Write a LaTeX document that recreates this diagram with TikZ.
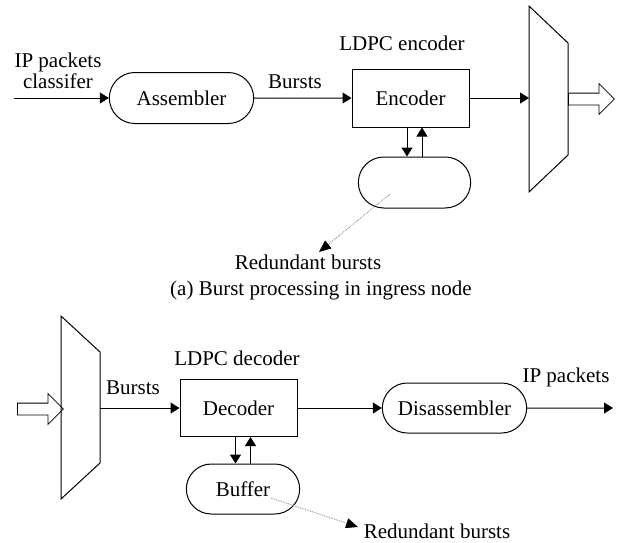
\documentclass[tikz,border=0pt]{standalone}
\usepackage{fontspec}
\setmainfont{Liberation Serif}
\usetikzlibrary{arrows.meta,shapes.misc,shapes.arrows}

\tikzset{
  blk/.style={draw,line width=1pt,rectangle,minimum width=117pt,minimum height=58pt},
  pill/.style={draw,line width=1pt,rounded rectangle,minimum width=151pt,minimum height=51pt},
  fat/.style={draw,line width=0.8pt,single arrow,minimum height=46pt,inner sep=5.5pt,
    single arrow head extend=9.5pt,single arrow tip angle=90},
  flow/.style={line width=1pt,-{Triangle[length=9pt,width=11pt]}},
  hint/.style={densely dotted,gray,line width=0.8pt,-{Triangle[length=12pt,width=10pt,color=black]}}
}

\begin{document}
\begin{tikzpicture}[x=1pt,y=-1pt,font=\fontsize{21}{21}\selectfont]
\useasboundingbox (0,0) rectangle (634,542);
% ingress node
\node[pill] (asm) at (181.5,98) {Assembler};
\node[blk] (enc) at (410.5,98) {Encoder};
\node[pill,minimum width=119pt] (rbuf) at (414.5,182.5) {};
\node[align=center] (ipin) at (58,71) {IP packets\\classifer};
\node (bur1) at (295,82) {Bursts};
\node (encl) at (402,43) {LDPC encoder};
\draw[line width=1pt] (529,6) -- (568,43) -- (568,155) -- (529,192) -- cycle;
\coordinate (src) at (14,98);
\coordinate (mux1) at (529,98);
\node[fat,anchor=tail] (outarr) at (568,99) {};
\draw[flow] (src) -- (asm);
\draw[flow] (asm) -- (enc);
\draw[flow] (enc) -- (mux1);
\draw[flow] ([xshift=-3.5pt]enc.south) -- ([xshift=-3.5pt]enc.south |- rbuf.north);
\draw[flow] ([xshift=11.5pt]enc.south |- rbuf.north) -- ([xshift=11.5pt]enc.south);
\node (rlab1) at (308,262) {Redundant bursts};
\coordinate (r1a) at (390,194);
\coordinate (r1b) at (319,252);
\draw[hint] (r1a) -- (r1b);
\node (capa) at (321,290) {(a) Burst processing in ingress node};

% egress node
\draw[line width=1pt] (61,316) -- (100,352) -- (100,463) -- (61,499) -- cycle;
\node[fat,anchor=tail] (inarr) at (17,409) {};
\coordinate (mux2) at (100,408);
\node[blk,minimum height=57pt] (dec) at (238.5,408) {Decoder};
\node[pill,minimum width=120pt,minimum height=50pt] (buf) at (243,489) {Buffer};
\node[pill,minimum height=50pt] (dis) at (454.5,408) {Disassembler};
\node (bur2) at (133,388) {Bursts};
\node (decl) at (237,358) {LDPC decoder};
\node (ipout) at (566,377) {IP packets};
\coordinate (snk) at (613,408);
\draw[flow] (mux2) -- (dec);
\draw[flow] (dec) -- (dis);
\draw[flow] (dis) -- (snk);
\draw[flow] ([xshift=-3pt]dec.south) -- ([xshift=-3pt]dec.south |- buf.north);
\draw[flow] ([xshift=12pt]dec.south |- buf.north) -- ([xshift=12pt]dec.south);
\node (rlab2) at (437,531) {Redundant bursts};
\coordinate (r2a) at (271,498);
\coordinate (r2b) at (358,527);
\draw[hint] (r2a) -- (r2b);
\end{tikzpicture}
\end{document}
